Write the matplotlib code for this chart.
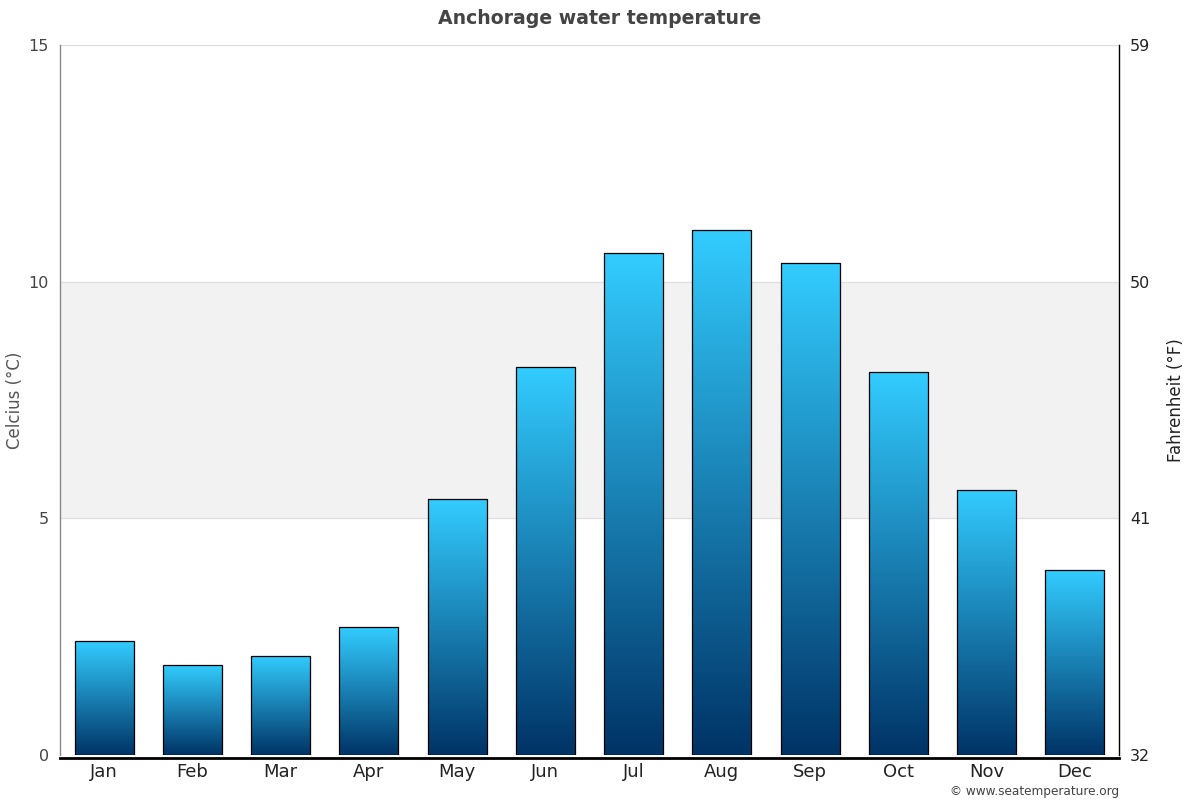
import numpy as np
import matplotlib
matplotlib.use("Agg")
import matplotlib.pyplot as plt
from matplotlib.colors import LinearSegmentedColormap
from matplotlib.patches import Rectangle

plt.rcParams["font.family"] = ["DejaVu Sans"]

months = ["Jan", "Feb", "Mar", "Apr", "May", "Jun", "Jul", "Aug", "Sep", "Oct", "Nov", "Dec"]
temps_c = [2.4, 1.9, 2.1, 2.7, 5.4, 8.2, 10.6, 11.1, 10.4, 8.1, 5.6, 3.9]
c_ticks = [0, 5, 10, 15]
f_labels = ["32", "41", "50", "59"]

fig = plt.figure(figsize=(12, 8), dpi=100)
ax = fig.add_axes([0.05, 0.05625, 0.8825, 0.8875])

ax.set_xlim(-0.5, len(months) - 0.5)
ax.set_ylim(0, 15)

# band and grid
ax.axhspan(5, 10, color="#f2f2f2", zorder=0)
for t in c_ticks[1:]:
    ax.axhline(t, color="#dddddd", lw=0.8, zorder=0.5)

cmap = LinearSegmentedColormap.from_list("wt", ["#003366", "#33ccff"])
grad = np.linspace(0, 1, 256).reshape(-1, 1)
width = 0.67
for i, v in enumerate(temps_c):
    x0 = i - width / 2
    im = ax.imshow(grad, cmap=cmap, aspect="auto", origin="lower",
                   extent=[x0, x0 + width, 0, v], zorder=2, interpolation="bicubic")
    rect = Rectangle((x0, 0), width, v, facecolor="none", edgecolor="black", lw=0.9, zorder=3)
    ax.add_patch(rect)
    im.set_clip_path(rect)

ax.set_xlim(-0.5, len(months) - 0.5)
ax.set_ylim(0, 15)

ax.set_xticks(range(len(months)))
ax.set_xticklabels(months)
ax.tick_params(axis="x", length=0, pad=4, labelsize=13, labelcolor="#222222")
ax.set_yticks(c_ticks)
ax.set_yticklabels([str(t) for t in c_ticks])
ax.tick_params(axis="y", length=0, pad=8, labelsize=11.5, labelcolor="#444444")
ax.set_ylabel("Celcius (°C)", fontsize=12, color="#555555")
ax.yaxis.set_label_coords(-0.034, 0.5)

ax.spines["top"].set_visible(False)
ax.spines["left"].set_color("#888888")
ax.spines["left"].set_linewidth(1)
ax.spines["right"].set_color("black")
ax.spines["right"].set_linewidth(1)
ax.spines["bottom"].set_color("black")
ax.spines["bottom"].set_linewidth(2)
ax.spines["bottom"].set_position(("outward", 2))

ax2 = ax.twinx()
ax2.set_ylim(0, 15)
ax2.set_yticks(c_ticks)
ax2.set_yticklabels(f_labels)
ax2.tick_params(axis="y", length=0, pad=8, labelsize=11.5, labelcolor="#222222")
ax2.set_ylabel("Fahrenheit (°F)", fontsize=12, color="#222222")
ax2.yaxis.set_label_coords(1.0453, 0.5)
for s in ax2.spines.values():
    s.set_visible(False)

fig.text(0.5, 0.977, "Anchorage water temperature", ha="center", va="center",
         fontsize=13.6, fontweight="bold", color="#444444")
fig.text(0.9325, 0.01, "© www.seatemperature.org", ha="right", va="center",
         fontsize=8.7, color="#444444")

fig.savefig("out.png", dpi=100)
